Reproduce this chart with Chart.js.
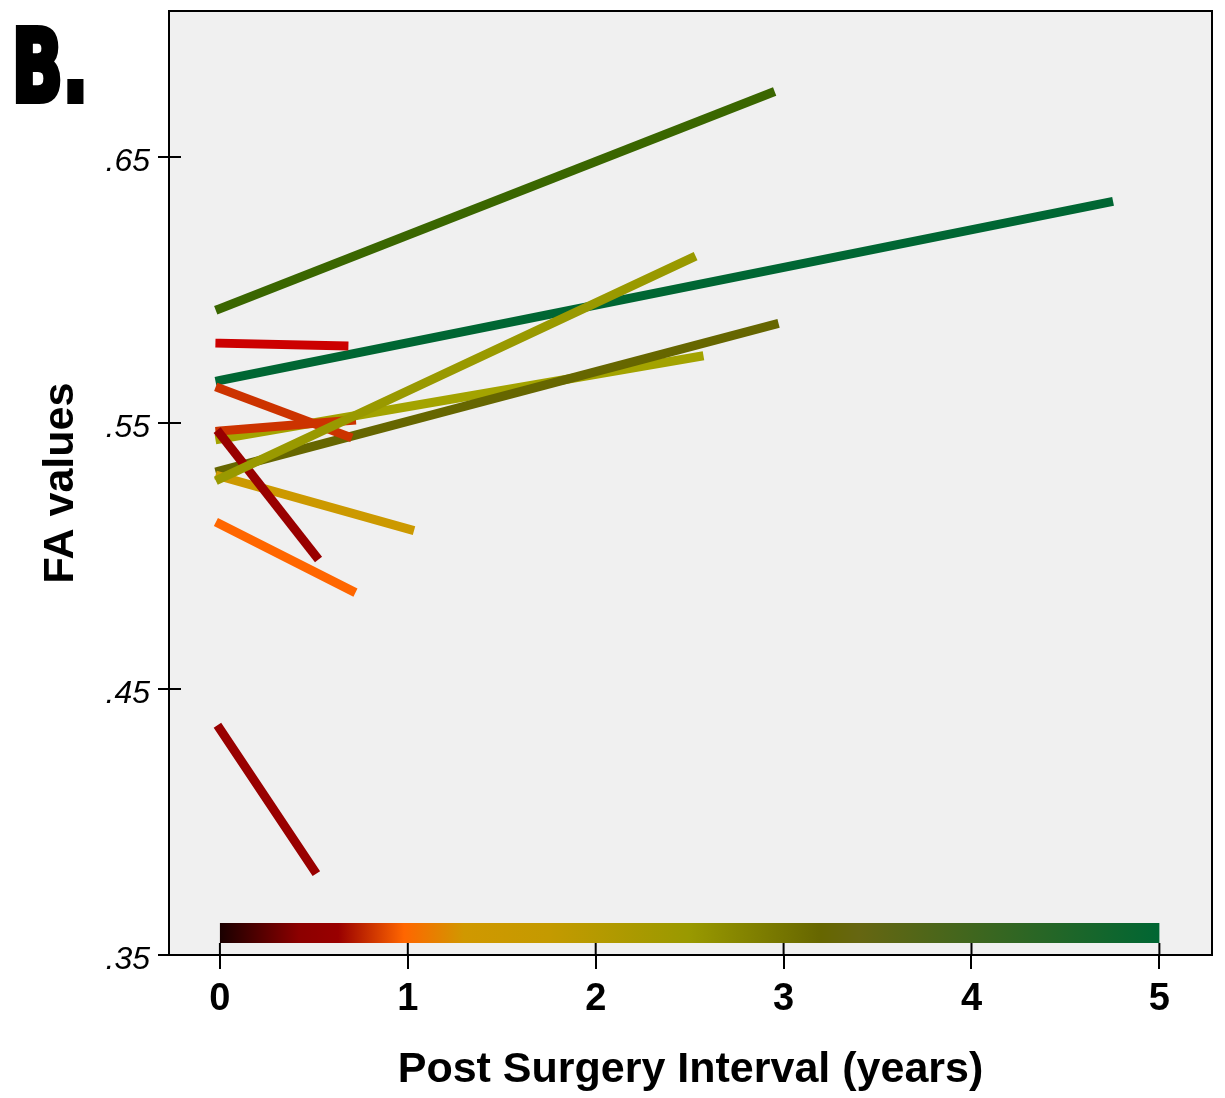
<!DOCTYPE html>
<html><head><meta charset="utf-8">
<script src="https://cdn.jsdelivr.net/npm/chart.js@4/dist/chart.umd.min.js"></script>
<style>
html,body{margin:0;padding:0;background:#fff;}
#wrap{position:relative;width:1225px;height:1098px;overflow:hidden;}
canvas{position:absolute;left:0;top:0;}
#panel{position:absolute;left:12px;top:17px;font-family:"Liberation Sans Narrow","DejaVu Sans Condensed","Liberation Sans",sans-serif;font-weight:bold;font-size:100px;line-height:1;transform:scaleX(0.74);transform-origin:left top;-webkit-text-stroke:6px #000;color:#000;white-space:nowrap;}
</style></head><body>
<div id="wrap"><canvas id="c" width="1225" height="1098"></canvas><div id="panel">B.</div></div>
<script>
// ---- data ----
const subjectStartX = [0, 0, 0, 0, 0, 0, 0, 0, 0, 0, 0, 0];
const subjectStartY = [0.593, 0.566, 0.529, 0.532, 0.544, 0.580, 0.563, 0.547, 0.546, 0.530, 0.512, 0.435];
const subjectEndX   = [2.93, 4.73, 2.51, 2.95, 2.55, 0.66, 0.68, 0.70, 0.51, 1.01, 0.70, 0.50];
const subjectEndY   = [0.674, 0.633, 0.612, 0.587, 0.575, 0.579, 0.545, 0.551, 0.500, 0.510, 0.487, 0.382];
const subjectColors = ['#3a6600', '#006633', '#999900', '#666600', '#a3a300', '#cc0000', '#cc3300', '#cc3300', '#990000', '#cc9900', '#ff6600', '#990000'];
// stacking of the subject lines, bottom to top (indices into the arrays above)
const subjectStacking = [1, 0, 4, 3, 9, 6, 7, 8, 2, 5, 10, 11];

const colorbarRange = [0, 5];
const colorbarLevel = 0.3583;
const colorbarStopYears  = [0, 0.12, 0.42, 0.63, 0.98, 1.3, 1.75, 2.5, 3.2, 3.4, 5];
const colorbarStopColors = ['#1a0000', '#3a0000', '#8c0000', '#990000', '#ff6600', '#d09800', '#c49a00', '#999900', '#666600', '#666611', '#006633'];

const xTicks = [0, 1, 2, 3, 4, 5];
const xTickLabels = ['0', '1', '2', '3', '4', '5'];
const yTicks = [0.35, 0.45, 0.55, 0.65];
const yTickLabels = ['.35', '.45', '.55', '.65'];
const xTitle = 'Post Surgery Interval (years)';
const yTitle = 'FA values';

// ---- chart ----
const FONT = "'Liberation Sans', Arial, sans-serif";

const datasets = subjectStartY.map((y0, i) => ({
  data: [{x: subjectStartX[i], y: y0}, {x: subjectEndX[i], y: subjectEndY[i]}],
  showLine: true,
  borderColor: subjectColors[i],
  borderWidth: 9,
  borderCapStyle: 'square',
  pointRadius: 0,
  fill: false,
  order: 100 - subjectStacking.indexOf(i)
}));

datasets.push({
  data: [{x: colorbarRange[0], y: colorbarLevel}, {x: colorbarRange[1], y: colorbarLevel}],
  showLine: true,
  borderWidth: 20,
  borderCapStyle: 'butt',
  pointRadius: 0,
  fill: false,
  order: 200,
  borderColor: function(context) {
    const chart = context.chart;
    const {ctx, chartArea, scales} = chart;
    if (!chartArea || !scales.x) return '#666600';
    const x0 = scales.x.getPixelForValue(colorbarRange[0]);
    const x1 = scales.x.getPixelForValue(colorbarRange[1]);
    const g = ctx.createLinearGradient(x0, 0, x1, 0);
    colorbarStopYears.forEach((yr, k) => {
      g.addColorStop((yr - colorbarRange[0]) / (colorbarRange[1] - colorbarRange[0]), colorbarStopColors[k]);
    });
    return g;
  }
});

const bgPlugin = {
  id: 'bg',
  beforeDraw(chart) {
    const {ctx, chartArea: a} = chart;
    ctx.save();
    ctx.fillStyle = '#f0f0f0';
    ctx.fillRect(a.left, a.top, a.right - a.left, a.bottom - a.top);
    ctx.restore();
  }
};

const framePlugin = {
  id: 'frame',
  afterDraw(chart) {
    const {ctx, chartArea: a, scales} = chart;
    ctx.save();
    ctx.strokeStyle = '#000';
    ctx.lineWidth = 2;
    ctx.strokeRect(a.left, a.top, a.right - a.left, a.bottom - a.top);
    ctx.beginPath();
    scales.x.ticks.forEach(t => {
      const px = scales.x.getPixelForValue(t.value);
      ctx.moveTo(px, a.bottom);
      ctx.lineTo(px, a.bottom - 12);
    });
    scales.y.ticks.forEach(t => {
      const py = scales.y.getPixelForValue(t.value);
      ctx.moveTo(a.left, py);
      ctx.lineTo(a.left + 12, py);
    });
    ctx.stroke();
    ctx.restore();
  }
};

new Chart(document.getElementById('c'), {
  type: 'scatter',
  data: {datasets},
  options: {
    responsive: false,
    animation: false,
    devicePixelRatio: 1,
    layout: {padding: {top: 11, right: 13, left: 0, bottom: 0}},
    plugins: {legend: {display: false}, tooltip: {enabled: false}},
    scales: {
      x: {
        type: 'linear',
        min: -0.271,
        max: 5.28,
        afterBuildTicks: s => { s.ticks = xTicks.map(v => ({value: v})); },
        afterFit: s => { s.height = 143; s.paddingLeft = 0; s.paddingRight = 0; },
        ticks: {
          color: '#000',
          font: {family: FONT, size: 38, weight: 'bold'},
          padding: 8,
          maxRotation: 0,
          autoSkip: false,
          callback: (v) => { const k = xTicks.indexOf(v); return k >= 0 ? xTickLabels[k] : ''; }
        },
        grid: {drawOnChartArea: false, drawTicks: true, tickLength: 14, color: '#000', lineWidth: 2},
        border: {display: true, color: '#000', width: 2},
        title: {display: true, text: xTitle, color: '#000', font: {family: FONT, size: 43, weight: 'bold'}, padding: {top: 0, bottom: 2}}
      },
      y: {
        type: 'linear',
        min: 0.35,
        max: 0.7049,
        afterBuildTicks: s => { s.ticks = yTicks.map(v => ({value: v})); },
        afterFit: s => { s.width = 169; s.paddingTop = 0; s.paddingBottom = 0; },
        ticks: {
          color: '#000',
          font: {family: FONT, size: 32, style: 'italic'},
          padding: 8,
          labelOffset: 5,
          autoSkip: false,
          callback: (v) => { const k = yTicks.findIndex(t => Math.abs(t - v) < 1e-9); return k >= 0 ? yTickLabels[k] : ''; }
        },
        grid: {drawOnChartArea: false, drawTicks: true, tickLength: 11, color: '#000', lineWidth: 2},
        border: {display: true, color: '#000', width: 2},
        title: {display: true, text: yTitle, color: '#000', font: {family: FONT, size: 43, weight: 'bold'}, padding: {top: 35, bottom: 0}}
      }
    }
  },
  plugins: [bgPlugin, framePlugin]
});
</script>
</body></html>
